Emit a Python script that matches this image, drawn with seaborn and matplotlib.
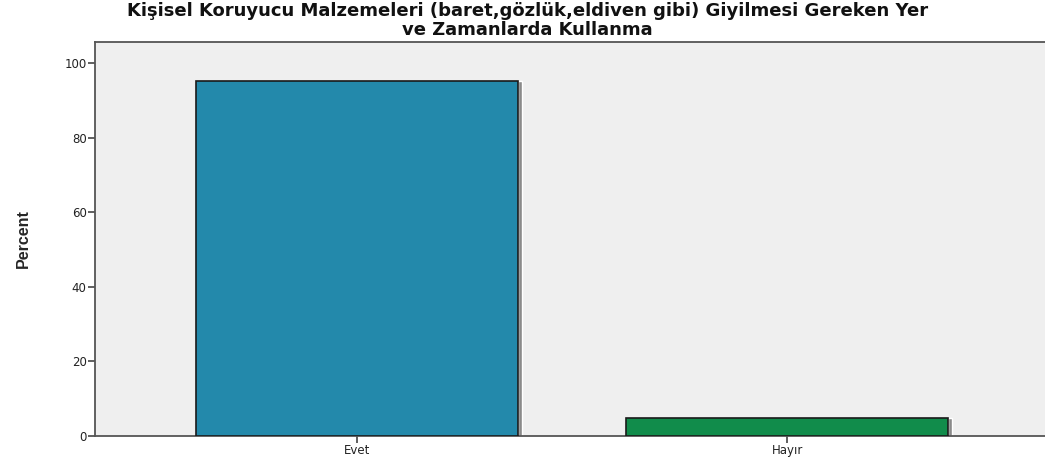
import numpy as np
import pandas as pd
import matplotlib
matplotlib.use("Agg")
import matplotlib.pyplot as plt
import seaborn as sns

# Data
categories = ["Evet", "Hayır"]
percents = [95.2, 4.8]
bar_colors = ["#2389ab", "#118c4b"]

title_line1 = "Kişisel Koruyucu Malzemeleri (baret,gözlük,eldiven gibi) Giyilmesi Gereken Yer"
title_line2 = "ve Zamanlarda Kullanma"

sns.set_style("white")
plt.rcParams["font.family"] = ["Liberation Sans", "DejaVu Sans"]

df = pd.DataFrame({"cat": categories, "pct": percents})

fig = plt.figure(figsize=(10.45, 4.63), dpi=100)
ax = fig.add_axes([0.0909, 0.0583, 0.9091, 0.8510])
ax.set_facecolor("#efefef")

sns.barplot(data=df, x="cat", y="pct", hue="cat", palette=bar_colors,
            saturation=1, width=0.75, edgecolor="#1a1a1a", linewidth=1.2,
            legend=False, ax=ax, zorder=3)

# slight shadow on the right edge of the bars
for p in ax.patches:
    x0 = p.get_x() + p.get_width()
    ax.bar(x0 + 0.004, p.get_height(), width=0.008, bottom=0,
           color="#8a8a8a", zorder=2, align="center")

ax.set_xlim(-0.61, 1.6)
ax.set_ylim(0, 105.6)
ax.set_yticks([0, 20, 40, 60, 80, 100])
ax.set_xlabel("")
ax.set_ylabel("Percent", fontsize=11.5, fontweight="bold",
              family=["Liberation Sans Narrow", "Liberation Sans", "DejaVu Sans"],
              labelpad=24)
ax.tick_params(axis="both", direction="out", length=5, width=1.2, color="#444444",
               labelsize=8.5, labelcolor="#222222", pad=1)
ax.tick_params(axis="y", left=True)
ax.tick_params(axis="x", bottom=True)
for lab in ax.get_xticklabels() + ax.get_yticklabels():
    lab.set_family(["DejaVu Sans"])

for side in ["left", "bottom", "top"]:
    ax.spines[side].set_visible(True)
    ax.spines[side].set_color("#555555")
    ax.spines[side].set_linewidth(1.3)
ax.spines["right"].set_visible(False)

# two title lines placed separately to keep them tight like the original
fig.text(0.505, 1 - 16 / 463, title_line1, ha="center", va="baseline",
         fontsize=13, fontweight="bold", family=["DejaVu Sans"], color="#111111")
fig.text(0.505, 1 - 35 / 463, title_line2, ha="center", va="baseline",
         fontsize=13, fontweight="bold", family=["DejaVu Sans"], color="#111111")

fig.savefig("out.png", dpi=100)
